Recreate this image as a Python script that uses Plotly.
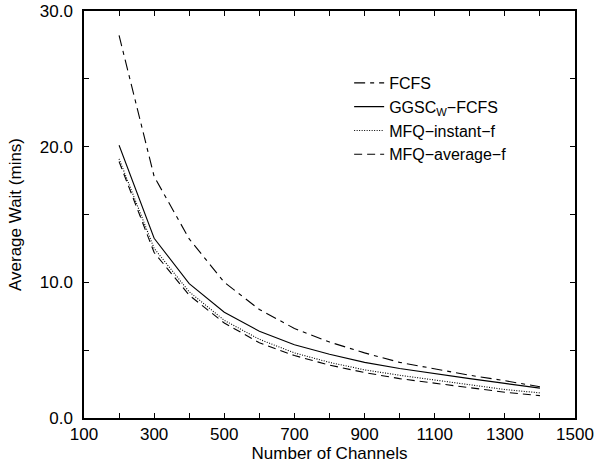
import plotly.graph_objects as go

channels = [200, 300, 400, 500, 600, 700, 800, 900, 1000, 1100, 1200, 1300, 1400]
fcfs = [28.2, 17.8, 13.2, 10.0, 8.0, 6.6, 5.6, 4.8, 4.1, 3.6, 3.15, 2.75, 2.3]
ggsc = [20.1, 13.25, 9.9, 7.8, 6.4, 5.4, 4.7, 4.1, 3.65, 3.25, 2.9, 2.55, 2.2]
mfq_instant = [19.1, 12.5, 9.3, 7.2, 5.8, 4.8, 4.1, 3.55, 3.15, 2.8, 2.45, 2.1, 1.85]
mfq_average = [18.9, 12.2, 9.05, 7.0, 5.55, 4.6, 3.9, 3.35, 2.9, 2.55, 2.2, 1.9, 1.65]

series = [
    ("FCFS", fcfs, "11px,5px,4px,5px"),
    ("GGSC<sub>W</sub>−FCFS", ggsc, "solid"),
    ("MFQ−instant−f", mfq_instant, "1px,1.5px"),
    ("MFQ−average−f", mfq_average, "8px,5px"),
]

fig = go.Figure()
for name, vals, dash in series:
    fig.add_trace(go.Scatter(
        x=channels, y=vals, mode="lines", name=name,
        line=dict(color="black", width=1.1, dash=dash),
    ))

font_family = "Liberation Sans, Arial, sans-serif"
fig.update_layout(
    width=595, height=467,
    margin=dict(l=84, r=20, t=11, b=49, autoexpand=False),
    paper_bgcolor="white", plot_bgcolor="white",
    font=dict(family=font_family, size=17, color="black"),
    showlegend=True,
    legend=dict(
        x=0.54, y=0.865, xanchor="left", yanchor="top",
        bgcolor="rgba(0,0,0,0)", font=dict(size=16),
        tracegroupgap=0,
    ),
    xaxis=dict(
        range=[100, 1500], tick0=100, dtick=200,
        ticks="inside", ticklen=5, tickwidth=1, tickcolor="black",
        showline=True, linecolor="black", linewidth=1.5, mirror="ticks",
        showgrid=False, zeroline=False, automargin=False,
        minor=dict(dtick=100, tick0=100, ticks="inside", ticklen=5, tickcolor="black", showgrid=False),
        title=dict(text="Number of Channels", font=dict(size=17), standoff=4),
        tickfont=dict(size=17),
    ),
    yaxis=dict(
        range=[0, 30], tick0=0, dtick=10, tickformat=".1f",
        ticks="inside", ticklen=5, tickwidth=1, tickcolor="black",
        showline=True, linecolor="black", linewidth=1.5, mirror="ticks",
        showgrid=False, zeroline=False, automargin=False,
        minor=dict(dtick=5, ticks="inside", ticklen=5, tickcolor="black", showgrid=False),
        title=dict(text="Average Wait (mins)", font=dict(size=17), standoff=14),
        tickfont=dict(size=17),
        ticklabelstandoff=6,
    ),
)

fig.write_html(
    "out.html",
    config={"displayModeBar": False},
    post_script="document.body.style.margin='0';document.body.style.overflow='hidden';",
)
